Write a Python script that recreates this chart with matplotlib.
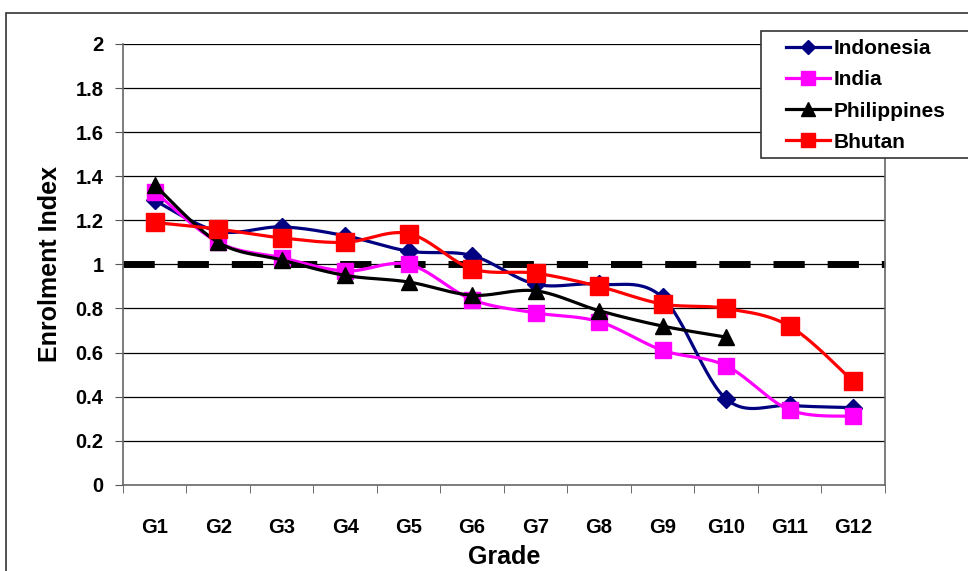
import numpy as np
import matplotlib.pyplot as plt
from matplotlib.patches import Rectangle

grades = ['G1', 'G2', 'G3', 'G4', 'G5', 'G6', 'G7', 'G8', 'G9', 'G10', 'G11', 'G12']
indonesia = [1.29, 1.15, 1.17, 1.13, 1.06, 1.04, 0.91, 0.91, 0.85, 0.39, 0.36, 0.35]
india = [1.33, 1.10, 1.03, 0.97, 1.00, 0.84, 0.78, 0.74, 0.61, 0.54, 0.34, 0.31]
philippines = [1.36, 1.10, 1.02, 0.95, 0.92, 0.86, 0.88, 0.79, 0.72, 0.67, np.nan, np.nan]
bhutan = [1.19, 1.16, 1.12, 1.10, 1.14, 0.98, 0.96, 0.90, 0.82, 0.80, 0.72, 0.47]
parity = 1.0

plt.rcParams['font.family'] = ['Liberation Sans', 'DejaVu Sans']
plt.rcParams['font.weight'] = 'bold'


def smooth(xs, ys, n=30):
    # bezier smoothing through every point (control points from neighbours / 6)
    pts = [(x, y) for x, y in zip(xs, ys) if not np.isnan(y)]
    pts = np.array(pts, dtype=float)
    out = [pts[:1]]
    t = np.linspace(0, 1, n)[1:, None]
    for i in range(len(pts) - 1):
        p0 = pts[max(i - 1, 0)]
        p1 = pts[i]
        p2 = pts[i + 1]
        p3 = pts[min(i + 2, len(pts) - 1)]
        c1 = p1 + (p2 - p0) / 6
        c2 = p2 - (p3 - p1) / 6
        seg = ((1 - t) ** 3) * p1 + 3 * ((1 - t) ** 2) * t * c1 + 3 * (1 - t) * t ** 2 * c2 + t ** 3 * p2
        out.append(seg)
    c = np.vstack(out)
    return c[:, 0], c[:, 1]


fig = plt.figure(figsize=(9.68, 5.71), dpi=100)
ax = fig.add_axes([0.127, 0.151, 0.787, 0.772])

x = np.arange(len(grades))
ax.set_xlim(-0.5, len(grades) - 0.5)
ax.set_ylim(0, 2)

for v in np.arange(0.2, 2.01, 0.2):
    ax.axhline(v, color='black', lw=0.9, zorder=1)

ax.axhline(parity, color='black', lw=5, dashes=(4.5, 3.3), zorder=2, clip_on=False)

series = [
    ('Indonesia', indonesia, '#000080', 'D', 9),
    ('India', india, '#FF00FF', 's', 12),
    ('Philippines', philippines, 'black', '^', 12),
    ('Bhutan', bhutan, '#FF0000', 's', 13),
]
handles = []
for i, (name, vals, col, mk, ms) in enumerate(series):
    sx, sy = smooth(x, vals)
    ax.plot(sx, sy, color=col, lw=2.3, zorder=3 + i)
    ax.plot(x, vals, ls='none', marker=mk, ms=ms, color=col, zorder=3 + i)
    h, = ax.plot([], [], color=col, lw=2.3, marker=mk, ms=ms * 0.8)
    handles.append(h)

ax.set_yticks(np.arange(0, 2.01, 0.2))
ax.set_yticklabels(['0', '0.2', '0.4', '0.6', '0.8', '1', '1.2', '1.4', '1.6', '1.8', '2'])
ax.set_xticks(x)
ax.set_xticklabels(grades)
ax.set_xticks(np.arange(-0.5, len(grades), 1), minor=True)
ax.tick_params(axis='x', which='major', length=0, pad=24, labelsize=14.5)
ax.tick_params(axis='x', which='minor', length=6, direction='out', color='#555555')
ax.tick_params(axis='y', length=6, direction='out', color='#555555', labelsize=14.5, pad=8)

for s in ['left', 'bottom', 'right']:
    ax.spines[s].set_color('#666666')
    ax.spines[s].set_linewidth(1.2)
ax.spines['top'].set_visible(False)

ax.set_xlabel('Grade', fontsize=18, fontweight='bold', labelpad=6)
ax.set_ylabel('Enrolment Index', fontsize=18, fontweight='bold', labelpad=10)

# legend box runs off the right edge
fig.patches.append(Rectangle((0.786, 0.7233), 0.3, 0.2224, transform=fig.transFigure,
                             facecolor='white', edgecolor='#333333', lw=1.2, zorder=2))
leg = fig.legend(handles, [s[0] for s in series], loc='upper left',
                 bbox_to_anchor=(0.812, 0.931), fontsize=15, frameon=False,
                 handlelength=2.1, borderpad=0, labelspacing=0.58,
                 handletextpad=0.2, borderaxespad=0)
leg.set_zorder(3)

fig.patches.append(Rectangle((0.006, -0.1), 1.2, 1.077, transform=fig.transFigure,
                             fill=False, edgecolor='#333333', lw=1.2))

fig.savefig('out.png', dpi=100)
